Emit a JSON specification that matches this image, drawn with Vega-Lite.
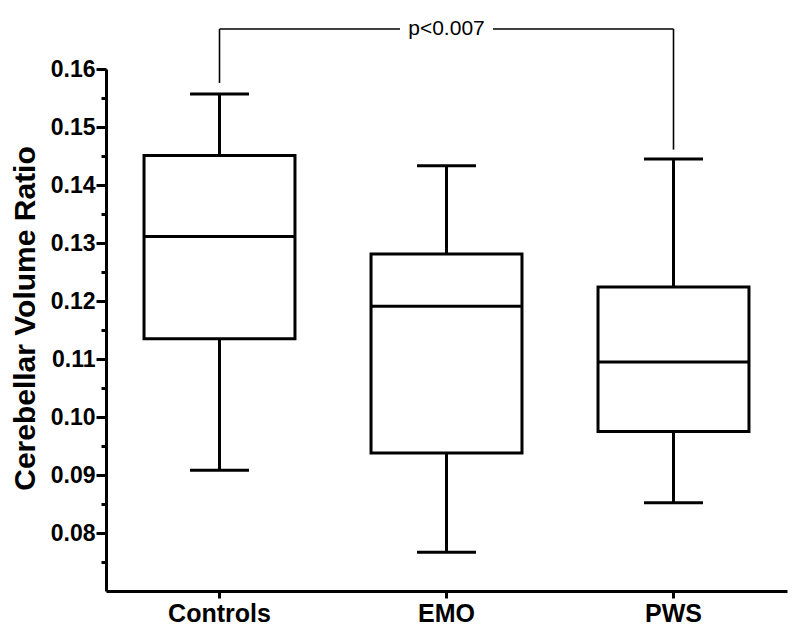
{
  "$schema": "https://vega.github.io/schema/vega-lite/v6.json",
  "autosize": {"type": "none"},
  "padding": {"left": 106, "top": 69, "right": 13, "bottom": 51},
  "width": 681,
  "height": 522,
  "background": "white",
  "config": {
    "view": {"stroke": null},
    "font": "Liberation Sans"
  },
  "datasets": {
    "boxes": [
      {"group": "Controls", "min": 0.0908, "q1": 0.1135, "median": 0.1311, "q3": 0.1451, "max": 0.1557},
      {"group": "EMO", "min": 0.0767, "q1": 0.0938, "median": 0.1191, "q3": 0.1281, "max": 0.1433},
      {"group": "PWS", "min": 0.0852, "q1": 0.0975, "median": 0.1095, "q3": 0.1224, "max": 0.1445}
    ],
    "legs": [
      {"group": "Controls", "low": 0.1576, "high": 0.1669},
      {"group": "PWS", "low": 0.1461, "high": 0.1669}
    ],
    "span": [
      {"from": "Controls", "to": "PWS", "y": 0.1669}
    ],
    "note": [
      {"group": "EMO", "y": 0.1669, "label": "p<0.007"}
    ]
  },
  "resolve": {"scale": {"y": "shared"}, "axis": {"y": "independent"}},
  "encoding": {
    "x": {
      "field": "group",
      "type": "nominal",
      "sort": ["Controls", "EMO", "PWS"],
      "scale": {"domain": ["Controls", "EMO", "PWS"], "paddingInner": 0, "paddingOuter": 0},
      "axis": {
        "title": null,
        "labelAngle": 0,
        "labelFont": "Liberation Sans",
        "labelFontSize": 25,
        "labelFontWeight": "bold",
        "labelColor": "black",
        "labelPadding": 3,
        "tickSize": 7,
        "tickWidth": 3,
        "tickColor": "black",
        "domainColor": "black",
        "domainWidth": 3,
        "grid": false
      }
    }
  },
  "layer": [
    {
      "data": {"name": "boxes"},
      "mark": {"type": "rule", "color": "black", "strokeWidth": 3},
      "encoding": {
        "y": {
          "field": "min",
          "type": "quantitative",
          "scale": {"domain": [0.07, 0.16], "nice": false, "zero": false},
          "axis": {
            "orient": "left",
            "offset": 0,
            "title": "Cerebellar Volume Ratio",
            "titleFont": "Liberation Sans",
            "titleFontSize": 30,
            "titleFontWeight": "bold",
            "titleColor": "black",
            "titlePadding": 10,
            "titleY": 249,
            "values": [0.08, 0.09, 0.1, 0.11, 0.12, 0.13, 0.14, 0.15, 0.16],
            "format": ".2f",
            "labelFont": "Liberation Sans",
            "labelFontSize": 23,
            "labelFontWeight": "bold",
            "labelColor": "black",
            "labelPadding": 1,
            "labelOverlap": false,
            "tickSize": 10,
            "tickWidth": 3,
            "tickColor": "black",
            "domainColor": "black",
            "domainWidth": 3,
            "grid": false
          }
        },
        "y2": {"field": "max"}
      }
    },
    {
      "data": {"name": "boxes"},
      "mark": {"type": "bar", "fill": "white", "stroke": "black", "strokeWidth": 3, "width": {"band": 0.665}},
      "encoding": {
        "y": {
          "field": "q1",
          "type": "quantitative",
          "axis": {
            "orient": "left",
            "offset": 0,
            "title": null,
            "values": [0.075, 0.085, 0.095, 0.105, 0.115, 0.125, 0.135, 0.145, 0.155],
            "labels": false,
            "domain": false,
            "tickSize": 5,
            "tickWidth": 3,
            "tickColor": "black",
            "grid": false
          }
        },
        "y2": {"field": "q3"}
      }
    },
    {
      "data": {"name": "boxes"},
      "mark": {"type": "tick", "color": "black", "size": 151, "thickness": 3, "opacity": 1},
      "encoding": {
        "y": {"field": "median", "type": "quantitative", "axis": null}
      }
    },
    {
      "data": {"name": "boxes"},
      "mark": {"type": "tick", "color": "black", "size": 59, "thickness": 3, "opacity": 1},
      "encoding": {
        "y": {"field": "min", "type": "quantitative", "axis": null}
      }
    },
    {
      "data": {"name": "boxes"},
      "mark": {"type": "tick", "color": "black", "size": 59, "thickness": 3, "opacity": 1},
      "encoding": {
        "y": {"field": "max", "type": "quantitative", "axis": null}
      }
    },
    {
      "data": {"name": "legs"},
      "mark": {"type": "rule", "color": "black", "strokeWidth": 1.6, "clip": false},
      "encoding": {
        "y": {"field": "low", "type": "quantitative", "axis": null},
        "y2": {"field": "high"}
      }
    },
    {
      "data": {"name": "span"},
      "mark": {"type": "rule", "color": "black", "strokeWidth": 1.6, "clip": false},
      "encoding": {
        "x": {"field": "from", "type": "nominal"},
        "x2": {"field": "to"},
        "y": {"field": "y", "type": "quantitative", "axis": null}
      }
    },
    {
      "data": {"name": "note"},
      "mark": {"type": "tick", "color": "white", "size": 93, "thickness": 6, "opacity": 1, "clip": false},
      "encoding": {
        "y": {"field": "y", "type": "quantitative", "axis": null}
      }
    },
    {
      "data": {"name": "note"},
      "mark": {"type": "text", "color": "black", "font": "Liberation Sans", "fontSize": 21, "baseline": "middle", "align": "center", "clip": false},
      "encoding": {
        "y": {"field": "y", "type": "quantitative", "axis": null},
        "text": {"field": "label"}
      }
    }
  ]
}
